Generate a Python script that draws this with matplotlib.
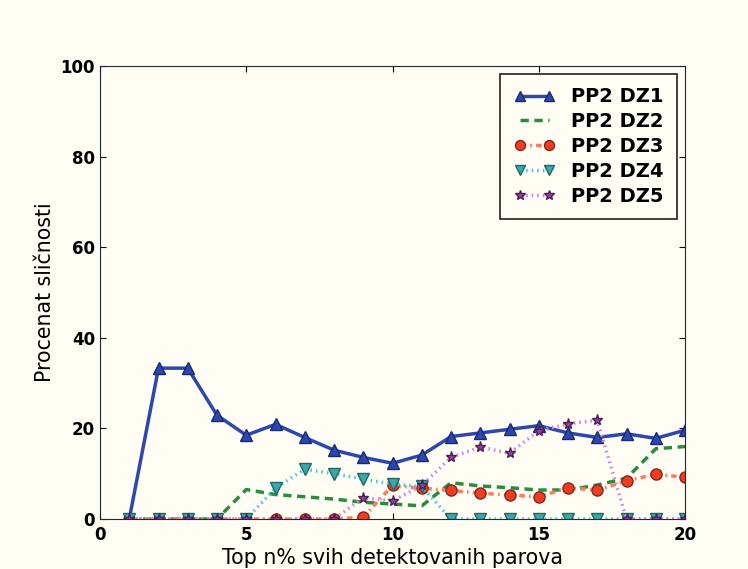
import matplotlib
matplotlib.use('Agg')
import matplotlib.pyplot as plt

plt.rcParams['lines.scale_dashes'] = False

# Top n% od 1 do 20
x_vals = list(range(1, 21))
dz1 = [0, 33.3, 33.3, 22.9, 18.5, 20.9, 18.0, 15.2, 13.6, 12.3,
       14.1, 18.2, 19.0, 19.8, 20.6, 19.0, 18.0, 18.8, 17.8, 19.6]
dz2 = [0, 0, 0, 0, 6.5, 5.4, 4.9, 4.4, 3.7, 3.3,
       2.9, 8.0, 7.3, 6.9, 6.4, 6.4, 7.5, 9.0, 15.5, 16.0]
dz3 = [0, 0, 0, 0, 0, 0, 0, 0, 0.4, 7.4,
       6.8, 6.3, 5.7, 5.3, 4.9, 6.9, 6.4, 8.4, 9.9, 9.2]
dz4 = [0, 0, 0, 0, 0, 6.8, 11.0, 10.0, 8.8, 7.7,
       7.2, 0, 0, 0, 0, 0, 0, 0, 0, 0]
dz5 = [0, 0, 0, 0, 0, 0, 0, 0, 4.7, 4.0,
       7.4, 13.6, 15.9, 14.5, 19.5, 21.0, 21.8, 0, 0, 0]
labels = ['PP2 DZ1', 'PP2 DZ2', 'PP2 DZ3', 'PP2 DZ4', 'PP2 DZ5']

bg = '#fffdf4'
fig = plt.figure(figsize=(7.48, 5.69), dpi=100, facecolor=bg)
ax = fig.add_axes([100/748, 50/569, 585/748, 453/569], facecolor=bg)

ax.plot(x_vals, dz1, '-', color='#2c48b0', lw=2.5, marker='^', ms=8,
        mfc='#2c48b0', mec='#1a2a70', label=labels[0])
ax.plot(x_vals, dz2, color='#2a8c3c', lw=2.5, ls=(0, (6, 4)),
        label=labels[1])
ax.plot(x_vals, dz3, color='#ff7a60', lw=2.5, ls=(0, (4, 3, 1.2, 3)),
        marker='o', ms=8, mfc='#f23c20', mec='#7a2a20', label=labels[2])
ax.plot(x_vals, dz4, color='#50cad6', lw=2.5, ls=(0, (1.2, 2.8)),
        marker='v', ms=8, mfc='#3aa8a8', mec='#206868', label=labels[3])
ax.plot(x_vals, dz5, color='#c98ae0', lw=2.5, ls=(0, (1.2, 2.8)),
        marker='*', ms=8, mfc='#9a3ca8', mec='#4a2050', label=labels[4])

ax.set_xlim(0, 20)
ax.set_ylim(0, 100)
ax.set_xticks([0, 5, 10, 15, 20])
ax.set_yticks([0, 20, 40, 60, 80, 100])
ax.tick_params(direction='in', top=True, right=True, length=4, labelsize=12)
for t in ax.get_xticklabels() + ax.get_yticklabels():
    t.set_fontweight('bold')
ax.tick_params(axis='x', pad=5)
for s in ax.spines.values():
    s.set_color('#202830')

ax.set_xlabel('Top n% svih detektovanih parova', fontsize=14.8, labelpad=3)
ax.set_ylabel('Procenat sličnosti', fontsize=14.8)

leg = ax.legend(loc='upper right', prop={'weight': 'bold', 'size': 14},
                fancybox=False, edgecolor='#202020', facecolor=bg,
                framealpha=1, numpoints=2, handlelength=2.1,
                handletextpad=0.85, labelspacing=0.3, borderpad=0.7,
                borderaxespad=0.4, markerscale=0.9)
leg.get_frame().set_linewidth(1.2)

fig.savefig('out.png', dpi=100, facecolor=bg)
